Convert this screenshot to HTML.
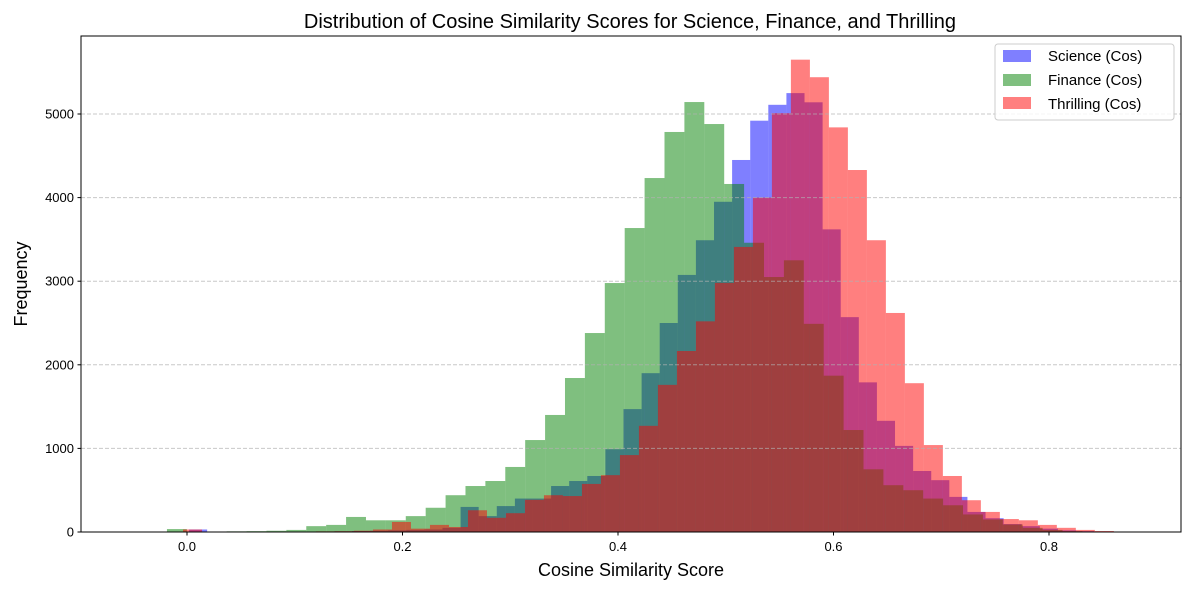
<!DOCTYPE html>
<html><head><meta charset="utf-8"><style>
body{margin:0;background:#fff;}
svg text{font-family:"Liberation Sans","DejaVu Sans",sans-serif;}
</style></head><body>
<svg id="chart" width="1189" height="590" xmlns="http://www.w3.org/2000/svg">
<text x="630" y="28" font-size="20" text-anchor="middle">Distribution of Cosine Similarity Scores for Science, Finance, and Thrilling</text>
<g id="bars"></g>
<g id="grid"></g>
<rect x="81" y="36" width="1100" height="496" fill="none" stroke="#000" stroke-width="1"/>
<g id="ticks"></g>
<text x="631" y="576" font-size="18" text-anchor="middle">Cosine Similarity Score</text>
<text x="27" y="284" font-size="18" text-anchor="middle" transform="rotate(-90 27 284)">Frequency</text>
<g>
<rect x="995" y="44" width="179" height="76" rx="3" fill="#fff" fill-opacity="0.8" stroke="#ccc"/>
<g><rect x="1003" y="50" width="28" height="12" fill="rgba(0,0,255,0.5)"/><text x="1048" y="61" font-size="15">Science (Cos)</text></g>
<g><rect x="1003" y="74" width="28" height="12" fill="rgba(0,128,0,0.5)"/><text x="1048" y="85" font-size="15">Finance (Cos)</text></g>
<g><rect x="1003" y="97" width="28" height="12" fill="rgba(255,0,0,0.5)"/><text x="1048" y="109" font-size="15">Thrilling (Cos)</text></g>
</g>
</svg>
<script>
const scienceStart = 0.0019, scienceWidth = 0.0168;
const scienceCounts = [30,0,0,0,2,3,5,5,8,12,15,20,25,30,50,300,190,310,400,400,550,610,670,990,1470,1900,2500,3075,3490,3950,4450,4920,5110,5250,5140,3620,2570,1790,1330,1030,730,620,420,240,165,95,70,40,20,10];
const financeStart = -0.0186, financeWidth = 0.01847;
const financeCounts = [35,0,3,8,10,15,25,70,85,180,140,140,190,290,440,550,610,778,1100,1400,1842,2380,2978,3636,4234,4785,5143,4880,4163,3460,3050,3250,2490,1870,1220,750,560,500,400,320,210,150,90,50,25,10,5,2,1,0];
const thrillingStart = -0.0037, thrillingWidth = 0.01763;
const thrillingCounts = [30,0,0,0,2,3,5,8,10,15,30,120,40,85,60,260,170,225,385,440,430,575,680,920,1270,1760,2165,2520,2980,3410,4000,5010,5650,5440,4840,4330,3490,2620,1780,1040,670,380,240,155,140,85,50,25,12,5];
const xTicks = [0.0,0.2,0.4,0.6,0.8];
const xTickLabels = ["0.0","0.2","0.4","0.6","0.8"];
const yTicks = [0,1000,2000,3000,4000,5000];
const yTickLabels = ["0","1000","2000","3000","4000","5000"];

const NS="http://www.w3.org/2000/svg";
function xs(v){return 187 + v*1077.5;}
function ys(v){return 532 - v*0.0836;}
const bars=document.getElementById('bars');
function drawSeries(start,w,counts,color,name){
  counts.forEach((c,i)=>{
    if(c<=0) return;
    const x0=xs(start+i*w), x1=xs(start+(i+1)*w);
    const r=document.createElementNS(NS,'rect');
    r.setAttribute('x',x0);r.setAttribute('width',x1-x0);
    r.setAttribute('y',ys(c));r.setAttribute('height',ys(0)-ys(c));
    r.setAttribute('fill',color);
    
    
    bars.appendChild(r);
  });
}
drawSeries(scienceStart,scienceWidth,scienceCounts,'rgba(0,0,255,0.5)','science');
drawSeries(financeStart,financeWidth,financeCounts,'rgba(0,128,0,0.5)','finance');
drawSeries(thrillingStart,thrillingWidth,thrillingCounts,'rgba(255,0,0,0.5)','thrilling');
const grid=document.getElementById('grid'), ticks=document.getElementById('ticks');
yTicks.forEach((v,i)=>{
  const y=ys(v);
  if(v>0){
    const l=document.createElementNS(NS,'line');
    l.setAttribute('x1',81);l.setAttribute('x2',1181);l.setAttribute('y1',y);l.setAttribute('y2',y);
    l.setAttribute('stroke','#b0b0b0');l.setAttribute('stroke-opacity','0.7');l.setAttribute('stroke-dasharray','4,2');
    
    
    grid.appendChild(l);
  }
  const t=document.createElementNS(NS,'line');
  t.setAttribute('x1',77.5);t.setAttribute('x2',81);t.setAttribute('y1',y);t.setAttribute('y2',y);t.setAttribute('stroke','#000');
  
  
  ticks.appendChild(t);
  const tx=document.createElementNS(NS,'text');
  tx.setAttribute('x',74);tx.setAttribute('y',y+4.5);tx.setAttribute('font-size','13');tx.setAttribute('text-anchor','end');
  tx.textContent=yTickLabels[i];
  
  
  ticks.appendChild(tx);
});
xTicks.forEach((v,i)=>{
  const x=xs(v);
  const t=document.createElementNS(NS,'line');
  t.setAttribute('x1',x);t.setAttribute('x2',x);t.setAttribute('y1',532);t.setAttribute('y2',535.5);t.setAttribute('stroke','#000');
  
  
  ticks.appendChild(t);
  const tx=document.createElementNS(NS,'text');
  tx.setAttribute('x',x);tx.setAttribute('y',551);tx.setAttribute('font-size','13');tx.setAttribute('text-anchor','middle');
  tx.textContent=xTickLabels[i];
  
  
  ticks.appendChild(tx);
});
</script>
</body></html>
